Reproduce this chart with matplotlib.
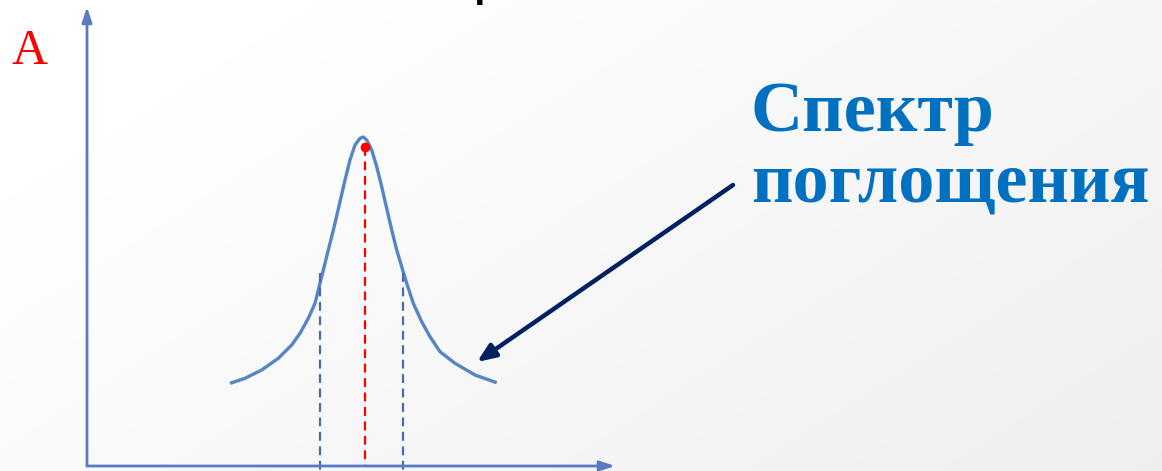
import numpy as np
import matplotlib.pyplot as plt

# spectrum curve (x, A in axis units, origin at the axes corner)
curve_x = [143, 158, 174.7, 191.3, 204.7, 213, 221.3, 228, 233, 238, 243, 248, 253, 258,
           263, 268, 273, 276.3, 279.7, 284.7, 289.7, 294.7, 299.7, 304.7, 309.7, 314.7,
           319.7, 326.3, 334.7, 343, 353, 368, 388, 409.7]
curve_y = [82.7, 87.7, 96, 107.7, 121, 132.7, 147.7, 162.7, 182.7, 202.7, 222.7, 242.7,
           264.3, 286, 306, 321, 327.7, 329, 326, 316, 299.3, 279.3, 257.7, 236, 216, 199.3,
           182.7, 162.7, 144.3, 129.3, 114.3, 102.7, 91, 83.3]

peak_x, peak_y = 278, 319        # red marker on the maximum
half_left, half_right = 233, 316  # half-width lines
half_top = 193
x_end, y_end = 528, 459          # axis lengths

label_a = "A"
label_line1 = "Спектр"
label_line2 = "поглощения"

W, H = 1162, 471
fig = plt.figure(figsize=(W / 100, H / 100), dpi=100)

# background gradient (white top-left -> light grey bottom-right)
bg = fig.add_axes([0, 0, 1, 1])
gx, gy = np.meshgrid(np.linspace(0, 1, 300), np.linspace(0, 1, 120))
g = np.clip(0.55 * gx + 0.35 * gy - 0.15, 0, 1)
img = 1.0 - 0.085 * g
bg.imshow(np.dstack([img, img, img]), extent=[0, W, H, 0], aspect='auto')
bg.set_xlim(0, W)
bg.set_ylim(H, 0)
bg.axis('off')

# chart axes, origin at pixel (87, 466)
ax = fig.add_axes([87 / W, 5 / H, x_end / W, y_end / H])
ax.set_xlim(0, x_end)
ax.set_ylim(0, y_end)
ax.axis('off')

axis_col = "#5a7bc2"
ax.annotate("", xy=(x_end, 0), xytext=(0, 0),
            arrowprops=dict(arrowstyle="-|>,head_length=0.9,head_width=0.3",
                            color=axis_col, lw=2, shrinkA=0, shrinkB=0))
ax.annotate("", xy=(0, y_end), xytext=(0, 0),
            arrowprops=dict(arrowstyle="-|>,head_length=0.9,head_width=0.3",
                            color=axis_col, lw=2, shrinkA=0, shrinkB=0))

ax.plot(curve_x, curve_y, color="#5585c2", lw=2.4, solid_joinstyle='round',
        solid_capstyle='butt', clip_on=False)

ax.plot([half_left, half_left], [half_top, -5], color="#4d68b0", lw=1.6,
        dashes=(4, 2.5), clip_on=False)
ax.plot([half_right, half_right], [half_top, -5], color="#4d68b0", lw=1.6,
        dashes=(4, 2.5), clip_on=False)
ax.plot([peak_x, peak_x], [peak_y, 0], color="#ff0000", lw=1.6, dashes=(4, 2.5))
ax.plot([peak_x], [peak_y], 'o', color="#ff0000", ms=6)

# texts and pointer arrow (pixel coordinates on the background axes)
bg.text(12, 64, label_a, color="#ff0000", fontsize=36, family="Liberation Serif",
        va='baseline', ha='left')
bg.text(751, 131, label_line1, color="#0070c0", fontsize=52, family="Liberation Serif",
        weight='bold', va='baseline', ha='left')
bg.text(751, 202, label_line2, color="#0070c0", fontsize=52, family="Liberation Serif",
        weight='bold', va='baseline', ha='left')
bg.text(472, -8, "р", color="black", fontsize=44, family="Liberation Sans",
        va='baseline', ha='left', clip_on=False)
bg.annotate("", xy=(477, 362), xytext=(733, 185),
            arrowprops=dict(arrowstyle="-|>,head_length=1.1,head_width=0.45",
                            color="#002060", lw=3.2, shrinkA=0, shrinkB=0))

fig.savefig("out.png", dpi=100)
